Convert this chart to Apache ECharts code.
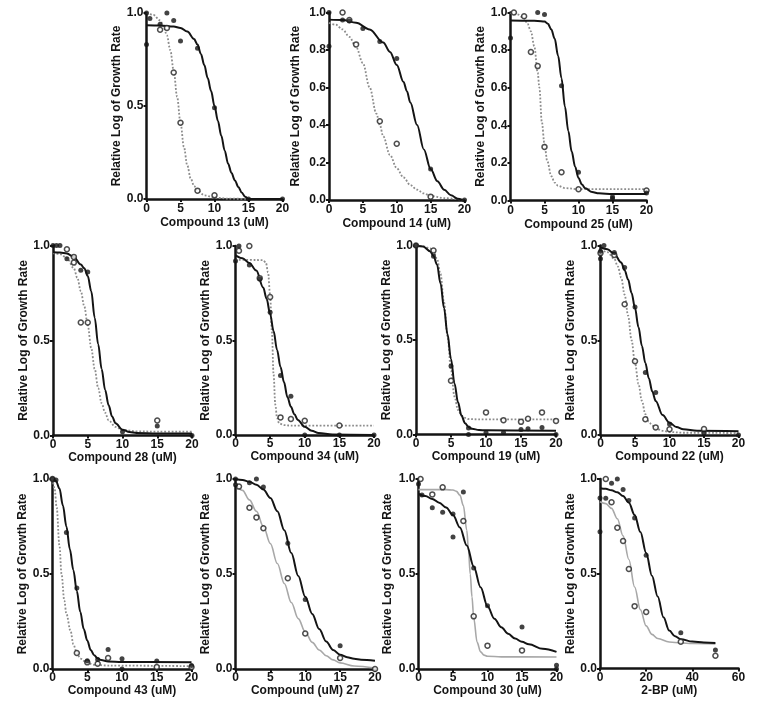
<!DOCTYPE html>
<html><head><meta charset="utf-8">
<script src="https://cdn.jsdelivr.net/npm/echarts@6/dist/echarts.min.js"></script>
<style>html,body{margin:0;padding:0;background:#fff}#c{width:766px;height:710px}</style>
</head><body><div id="c"></div>
<script>
// ---------- titles ----------
const xTitles = ['Compound 13 (uM)','Compound 14 (uM)','Compound 25 (uM)','Compound 28 (uM)','Compound 34 (uM)','Compound 19 (uM)','Compound 22 (uM)','Compound 43 (uM)','Compound (uM) 27','Compound 30 (uM)','2-BP (uM)'];
const yTitle = 'Relative Log of Growth Rate';

// ---------- data: measured points (filled = black dots, open = open circles) ----------
const c13Filled = [[0,0.83],[0,1.0],[0.5,0.97],[2,0.94],[3,1.0],[4,0.96],[5,0.85],[7.5,0.81],[10,0.49],[15,0.0],[20,0.0]];
const c13Open   = [[2,0.91],[3,0.92],[4,0.68],[5,0.41],[7.5,0.045],[10,0.02]];
const c14Filled = [[0,0.82],[0,1.0],[2,0.96],[3,0.955],[5,0.915],[7.5,0.845],[10,0.755],[15,0.165],[20,0.0]];
const c14Open   = [[2,1.0],[3,0.96],[4,0.83],[7.5,0.42],[10,0.30],[15,0.018]];
const c25Filled = [[0,0.865],[4,1.0],[5,0.99],[7.5,0.61],[10,0.15],[15,0.02],[15,0.01],[20,0.04]];
const c25Open   = [[0.5,1.0],[2,0.98],[3,0.79],[4,0.715],[5,0.285],[7.5,0.15],[10,0.06],[20,0.053]];
const c28Filled = [[0,1.0],[0.5,1.0],[1,1.0],[2,0.93],[4,0.87],[5,0.86],[10,0.02],[15,0.05],[20,0.0]];
const c28Open   = [[2,0.98],[3,0.91],[3,0.94],[4,0.595],[5,0.595],[15,0.079]];
const c34Filled = [[0,0.92],[0.5,1.0],[2,0.9],[3.5,0.825],[5,0.65],[6.5,0.315],[8,0.205],[10,0.0],[15,0.0],[20,0.0]];
const c34Open   = [[0.5,0.975],[2,1.0],[3.5,0.83],[5,0.73],[6.5,0.093],[8,0.085],[10,0.075],[15,0.05]];
const c19Filled = [[0,1.0],[2.5,0.943],[5,0.362],[7.5,0.035],[7.5,0.0],[10,0.01],[12.5,0.01],[15,0.027],[16,0.03],[18,0.037],[20,0.0]];
const c19Open   = [[0,1.0],[2.5,0.973],[5,0.284],[10,0.117],[12.5,0.076],[15,0.067],[16,0.083],[18,0.117],[20,0.072]];
const c22Filled = [[0,0.93],[0,0.97],[0.5,1.0],[2,0.963],[3.5,0.884],[5,0.676],[6.5,0.33],[8,0.224],[10,0.058],[15,0.01],[20,0.0]];
const c22Open   = [[0,0.96],[2,0.95],[3.5,0.69],[5,0.389],[6.5,0.083],[8,0.04],[10,0.03],[15,0.032]];
const c43Filled = [[0,1.0],[0.5,0.995],[2,0.718],[3.5,0.426],[5,0.044],[6.5,0.05],[8,0.102],[10,0.054],[10,0.0],[15,0.042],[20,0.019]];
const c43Open   = [[0,1.0],[3.5,0.084],[5,0.035],[6.5,0.028],[8,0.058],[15,0.01],[20,0.01]];
const c27Filled = [[0,1.0],[0,0.97],[2,0.98],[3,1.0],[4,0.958],[7.5,0.662],[10,0.366],[15,0.123]];
const c27Open   = [[0.5,0.96],[2,0.849],[3,0.798],[4,0.741],[7.5,0.478],[10,0.187],[15,0.058],[20,0.0]];
const c30Filled = [[0,0.974],[0.5,0.916],[2,0.849],[3.5,0.825],[5,0.816],[5,0.695],[6.5,0.932],[8,0.532],[10,0.333],[15,0.221],[20,0.02],[20,0.0]];
const c30Open   = [[0.3,1.0],[2,0.919],[3.5,0.956],[6.5,0.779],[8,0.277],[10,0.123],[15,0.098]];
const bpFilled  = [[0,0.9],[0,0.722],[2.5,0.898],[5,0.977],[7.5,1.0],[10,0.945],[12.5,0.886],[15,0.794],[20,0.597],[35,0.188],[50,0.097]];
const bpOpen    = [[2.5,1.0],[5,0.877],[7.5,0.743],[10,0.673],[12.5,0.525],[15,0.329],[20,0.298],[35,0.141],[50,0.067]];

// ---------- data: fitted curves ----------
const c13FitFilled = [[0,0.934],[2,0.933],[4,0.927],[5,0.92],[6,0.9],[7,0.86],[7.5,0.83],[8,0.78],[8.5,0.72],[9,0.65],[9.5,0.58],[10,0.5],[10.5,0.42],[11,0.34],[11.5,0.26],[12,0.19],[12.5,0.14],[13,0.1],[13.5,0.065],[14,0.035],[14.5,0.012],[15,0.0],[20,0.0]];
const c13FitOpen   = [[0,1.0],[1,0.99],[2,0.96],[2.5,0.93],[3,0.88],[3.5,0.8],[4,0.69],[4.5,0.55],[5,0.41],[5.5,0.28],[6,0.18],[6.5,0.11],[7,0.07],[7.5,0.045],[8.5,0.02],[10,0.008],[12,0.002],[15,0.0]];
const c14FitFilled = [[0,0.962],[2,0.96],[4,0.945],[6,0.91],[8,0.84],[9,0.79],[10,0.72],[11,0.63],[11.5,0.58],[12,0.52],[13,0.4],[14,0.27],[15,0.165],[16,0.1],[17,0.055],[18,0.025],[19,0.007],[19.7,0.0]];
const c14FitOpen   = [[0,0.945],[1,0.935],[2,0.91],[3,0.87],[4,0.815],[5,0.73],[6,0.6],[7,0.46],[7.5,0.4],[8,0.34],[9,0.24],[10,0.17],[11,0.12],[12,0.08],[13,0.055],[14,0.035],[15,0.022],[17,0.01],[20,0.0]];
const c25FitFilled = [[0,0.957],[3,0.956],[4,0.955],[5,0.952],[5.5,0.94],[6,0.91],[6.5,0.86],[7,0.77],[7.5,0.65],[8,0.5],[8.5,0.37],[9,0.26],[9.5,0.18],[10,0.12],[10.5,0.085],[11,0.065],[12,0.045],[13,0.038],[15,0.035],[20,0.035]];
const c25FitOpen   = [[0,0.997],[1,0.99],[2,0.97],[2.5,0.94],[3,0.9],[3.5,0.82],[4,0.68],[4.25,0.6],[4.6,0.42],[5,0.3],[5.4,0.21],[6,0.13],[6.5,0.095],[7,0.078],[8,0.066],[10,0.06],[20,0.06]];
const c28FitFilled = [[0,0.965],[1,0.963],[2,0.958],[3,0.94],[4,0.9],[4.5,0.88],[5,0.84],[5.5,0.76],[6,0.62],[6.5,0.48],[7,0.35],[7.5,0.24],[8,0.16],[8.5,0.1],[9,0.065],[10,0.03],[11,0.018],[12,0.013],[15,0.01],[20,0.01]];
const c28FitOpen   = [[0,0.96],[1,0.955],[2,0.935],[3,0.88],[3.5,0.83],[4,0.76],[4.5,0.68],[5,0.58],[5.5,0.46],[6,0.35],[6.5,0.25],[7,0.17],[7.5,0.12],[8,0.08],[9,0.045],[10,0.03],[12,0.022],[15,0.02],[20,0.02]];
const c34FitFilled = [[0,0.95],[1,0.935],[2,0.91],[3,0.87],[4,0.78],[4.5,0.72],[5,0.64],[5.5,0.55],[6,0.45],[6.5,0.36],[7,0.28],[7.5,0.2],[8,0.15],[8.5,0.11],[9,0.08],[10,0.043],[11,0.022],[12,0.01],[14,0.003],[20,0.0]];
const c34FitOpen   = [[0,0.927],[3,0.926],[4,0.925],[4.4,0.91],[4.7,0.86],[5,0.74],[5.25,0.55],[5.5,0.32],[5.75,0.16],[6,0.09],[6.3,0.062],[7,0.052],[8,0.05],[20,0.05]];
const c19FitFilled = [[0,1.0],[1,0.995],[2,0.97],[2.5,0.945],[3,0.9],[3.5,0.8],[4,0.67],[4.5,0.53],[5,0.4],[5.5,0.27],[6,0.17],[6.5,0.1],[7,0.06],[7.5,0.04],[8,0.03],[9,0.024],[10,0.022],[20,0.02]];
const c19FitOpen   = [[0,1.0],[1,0.997],[2,0.985],[2.5,0.97],[3,0.93],[3.5,0.85],[4,0.7],[4.5,0.52],[5,0.34],[5.5,0.2],[6,0.13],[6.5,0.1],[7,0.088],[7.5,0.082],[9,0.08],[20,0.08]];
const c22FitFilled = [[0,0.99],[1,0.98],[2,0.955],[3,0.91],[3.5,0.87],[4,0.82],[4.5,0.75],[5,0.67],[5.5,0.57],[6,0.47],[6.5,0.38],[7,0.3],[7.5,0.23],[8,0.18],[9,0.105],[10,0.065],[11,0.042],[12,0.03],[14,0.022],[20,0.02]];
const c22FitOpen   = [[0,0.98],[1,0.965],[2,0.93],[2.5,0.89],[3,0.83],[3.5,0.74],[4,0.63],[4.5,0.5],[5,0.38],[5.5,0.27],[6,0.18],[6.5,0.11],[7,0.07],[7.5,0.05],[8,0.035],[9,0.022],[10,0.016],[12,0.012],[20,0.01]];
const c43FitFilled = [[0,1.0],[0.5,0.99],[1,0.95],[1.5,0.86],[2,0.75],[2.5,0.63],[3,0.52],[3.5,0.41],[4,0.3],[4.5,0.21],[5,0.15],[5.5,0.1],[6,0.072],[6.5,0.056],[7,0.047],[8,0.04],[10,0.037],[20,0.035]];
const c43FitOpen   = [[0,1.0],[0.3,0.95],[0.6,0.85],[1,0.65],[1.3,0.5],[1.7,0.36],[2,0.29],[2.6,0.2],[3,0.13],[3.5,0.085],[4,0.055],[5,0.032],[6,0.022],[8,0.018],[20,0.015]];
const c27FitFilled = [[0,1.0],[1,0.995],[2,0.985],[3,0.97],[4,0.945],[5,0.9],[6,0.83],[7,0.73],[8,0.61],[9,0.49],[10,0.38],[11,0.29],[12,0.21],[13,0.145],[14,0.1],[15,0.075],[16,0.062],[17,0.054],[18,0.049],[20,0.044]];
const c27FitOpen   = [[0,0.975],[1,0.94],[2,0.89],[3,0.83],[4,0.75],[5,0.66],[6,0.555],[7,0.45],[8,0.35],[9,0.265],[10,0.195],[11,0.14],[12,0.1],[13,0.07],[14,0.048],[15,0.032],[17,0.016],[20,0.005]];
const c30FitFilled = [[0,0.921],[1,0.91],[2,0.895],[3,0.875],[4,0.85],[5,0.81],[6,0.745],[7,0.65],[8,0.54],[9,0.43],[10,0.33],[11,0.265],[12,0.22],[13,0.185],[14,0.16],[15,0.143],[16,0.13],[18,0.106],[20,0.09]];
const c30FitOpen   = [[0,0.944],[4,0.944],[5,0.942],[5.5,0.935],[6,0.915],[6.5,0.86],[7,0.73],[7.25,0.62],[7.5,0.5],[7.75,0.38],[8,0.27],[8.5,0.14],[9,0.09],[9.5,0.073],[10,0.067],[12,0.064],[20,0.063]];
const bpFitFilled  = [[0,0.951],[2.5,0.948],[5,0.94],[7.5,0.93],[10,0.91],[12.5,0.875],[15,0.81],[17.5,0.72],[20,0.61],[22.5,0.49],[25,0.38],[27.5,0.27],[30,0.2],[32.5,0.17],[35,0.155],[40,0.142],[45,0.137],[50,0.135]];
const bpFitOpen    = [[0,0.88],[2.5,0.87],[5,0.845],[7.5,0.79],[10,0.7],[12.5,0.575],[15,0.43],[17.5,0.31],[20,0.225],[22.5,0.18],[25,0.158],[30,0.14],[35,0.135],[40,0.132],[50,0.13]];

// ---------- tick settings ----------
const xMaxes    = [20,20,20,20,20,20,20,20,20,20,60];
const xSteps    = [5,5,5,5,5,5,5,5,5,5,20];
const ySteps    = [0.5,0.2,0.2,0.5,0.5,0.5,0.5,0.5,0.5,0.5,0.5];

const filledSets = [c13Filled,c14Filled,c25Filled,c28Filled,c34Filled,c19Filled,c22Filled,c43Filled,c27Filled,c30Filled,bpFilled];
const openSets   = [c13Open,c14Open,c25Open,c28Open,c34Open,c19Open,c22Open,c43Open,c27Open,c30Open,bpOpen];
const fitFilledSets = [c13FitFilled,c14FitFilled,c25FitFilled,c28FitFilled,c34FitFilled,c19FitFilled,c22FitFilled,c43FitFilled,c27FitFilled,c30FitFilled,bpFitFilled];
const fitOpenSets   = [c13FitOpen,c14FitOpen,c25FitOpen,c28FitOpen,c34FitOpen,c19FitOpen,c22FitOpen,c43FitOpen,c27FitOpen,c30FitOpen,bpFitOpen];

// ---------- layout (pixels) ----------
const layout = [
  {l:146.5,t:13,  w:136,  h:186,  yg:22, xg:18, lm:4, dash:'dotted'},
  {l:329,  t:12.5,w:135.5,h:187.5,yg:27, xg:18, lm:4, dash:'dotted'},
  {l:510.5,t:12.5,w:136,  h:188,  yg:18, xg:18, lm:4, dash:'dotted'},
  {l:53,   t:245.5,w:139, h:190,  yg:22, xg:16, lm:3, dash:'dotted'},
  {l:235.5,t:246, w:138.5,h:189,  yg:23, xg:16, lm:3, dash:'dotted'},
  {l:416,  t:245.5,w:140, h:189,  yg:22, xg:16, lm:3, dash:'dotted'},
  {l:600.5,t:245.5,w:138, h:189.5,yg:21, xg:16, lm:3, dash:'dotted'},
  {l:52.5, t:479, w:139,  h:190,  yg:21.5,xg:15,lm:3, dash:'dotted'},
  {l:235.5,t:479, w:139.5,h:190,  yg:23, xg:15, lm:3, dash:'solid'},
  {l:418.5,t:479, w:138,  h:190,  yg:24.5,xg:15,lm:3, dash:'solid'},
  {l:600,  t:479, w:138.5,h:189.5,yg:21, xg:15, lm:3, dash:'solid'}
];

const FONT = '"Liberation Sans", Arial, sans-serif';
const INK = '#141414';
const grids = [], xAxes = [], yAxes = [], series = [];
layout.forEach((L, i) => {
  grids.push({left:L.l, top:L.t, width:L.w, height:L.h, containLabel:false, outerBoundsMode:'none'});
  const common = {
    gridIndex:i, type:'value', splitLine:{show:false},
    axisLine:{show:true, onZero:false, lineStyle:{color:INK, width:2.5}},
    axisTick:{show:true, length:3, lineStyle:{color:INK, width:2}},
    nameLocation:'middle',
    nameTextStyle:{fontFamily:FONT, fontWeight:'bold', fontSize:12, color:INK}
  };
  xAxes.push(Object.assign({}, common, {
    min:0, max:xMaxes[i], interval:xSteps[i], name:xTitles[i], nameGap:L.xg,
    axisLabel:{margin:L.lm, fontFamily:FONT, fontWeight:'bold', fontSize:12, color:INK}
  }));
  yAxes.push(Object.assign({}, common, {
    min:0, max:1, interval:ySteps[i], name:yTitle, nameGap:L.yg,
    axisLabel:{margin:3, fontFamily:FONT, fontWeight:'bold', fontSize:12, color:INK,
      formatter:v => v.toFixed(1)}
  }));
  series.push({type:'line', xAxisIndex:i, yAxisIndex:i, data:fitOpenSets[i], showSymbol:false,
    smooth:0.35, smoothMonotone:'x', clip:false, z:2, silent:true,
    lineStyle:{color: L.dash==='solid' ? '#a8a8a8' : '#8c8c8c', width: L.dash==='solid'?1.6:1.8, type:L.dash}});
  series.push({type:'line', xAxisIndex:i, yAxisIndex:i, data:fitFilledSets[i], showSymbol:false,
    smooth:0.35, smoothMonotone:'x', clip:false, z:3, silent:true,
    lineStyle:{color:INK, width:2}});
  series.push({type:'scatter', xAxisIndex:i, yAxisIndex:i, data:openSets[i], symbol:'circle', symbolSize:5,
    clip:false, z:4, silent:true,
    itemStyle:{color:'#ffffff', borderColor:'#222', borderWidth:1.5}});
  series.push({type:'scatter', xAxisIndex:i, yAxisIndex:i, data:filledSets[i], symbol:'circle', symbolSize:5,
    clip:false, z:5, silent:true,
    itemStyle:{color:INK}});
});

const chart = echarts.init(document.getElementById('c'), null, {renderer:'canvas'});
chart.setOption({animation:false, backgroundColor:'#fff', grid:grids, xAxis:xAxes, yAxis:yAxes, series:series});
</script>
</body></html>
